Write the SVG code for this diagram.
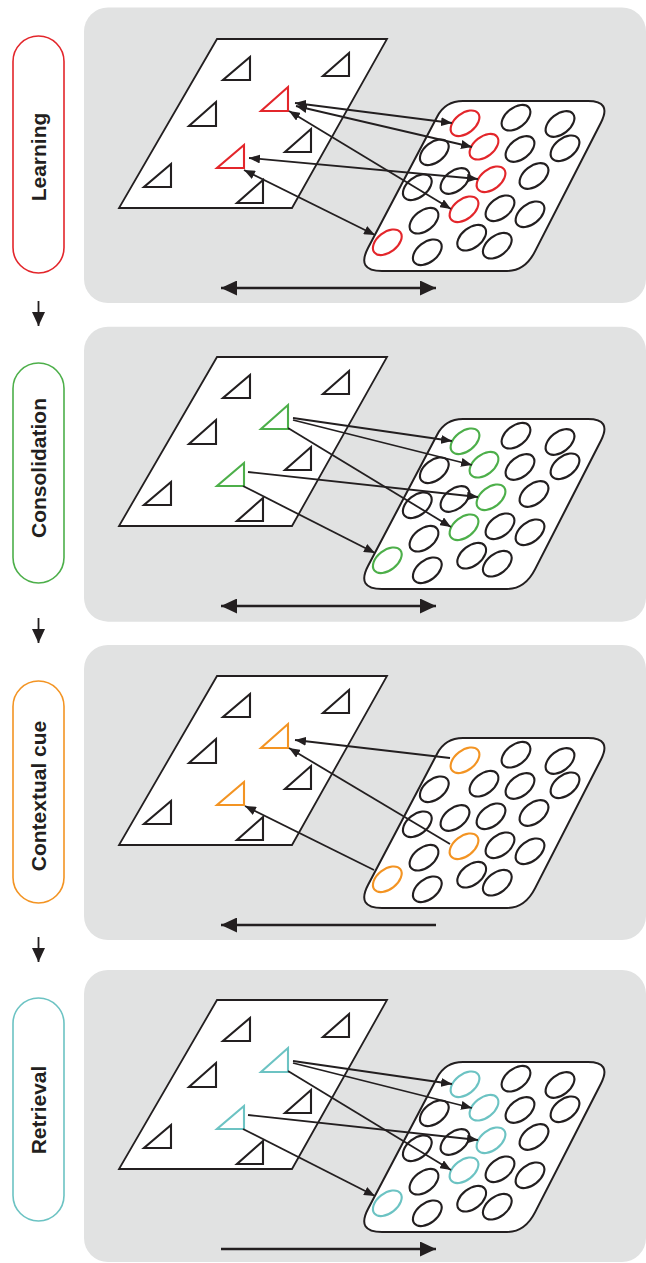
<svg xmlns="http://www.w3.org/2000/svg" xmlns:xlink="http://www.w3.org/1999/xlink" width="646" height="1263" viewBox="0 0 646 1263">
<style>
.panel{fill:#e1e2e2}
.sheet{fill:#fff;stroke:#231f20;stroke-width:1.8}
.tri{fill:none;stroke:#231f20;stroke-width:2.1}
.gridshape{fill:#fff;stroke:#231f20;stroke-width:2}
.ell{fill:none;stroke:#231f20;stroke-width:2.1}
.hi{fill:none;stroke-width:2.1}
.conn{fill:none;stroke:#231f20;stroke-width:1.8}
.big{fill:none;stroke:#231f20;stroke-width:2.6}
.pill{fill:#fff;stroke-width:1.6}
.label{font-family:"Liberation Sans",Arial,sans-serif;font-weight:bold;font-size:21px;fill:#231f20}
.red{stroke:#e3262b}
.green{stroke:#4daf4a}
.orange{stroke:#f39423}
.teal{stroke:#6cc3c3}
</style>
<defs>
<marker id="ah" markerUnits="userSpaceOnUse" markerWidth="11" markerHeight="9" refX="11" refY="4.5" orient="auto-start-reverse"><path d="M0,0 L11,4.5 L0,9 Z" fill="#231f20"/></marker>
<marker id="bh" markerUnits="userSpaceOnUse" markerWidth="16" markerHeight="15" refX="16" refY="7.5" orient="auto-start-reverse"><path d="M0,0 L16,7.5 L0,15 Z" fill="#231f20"/></marker>
<marker id="sh" markerUnits="userSpaceOnUse" markerWidth="14" markerHeight="13" refX="14" refY="6.5" orient="auto"><path d="M0,0 L14,6.5 L0,13 Z" fill="#231f20"/></marker>
<g id="sheet">
<path class="sheet" d="M217,39 L387,39 L292,208 L119,208 Z"/>
<path class="tri" d="M223,80 H250 V57 Z"/>
<path class="tri" d="M323,76 H349 V53 Z"/>
<path class="tri" d="M189,126 H216 V102 Z"/>
<path class="tri" d="M285,152 H311 V129 Z"/>
<path class="tri" d="M144,187 H171 V164 Z"/>
<path class="tri" d="M237,203 H263 V180 Z"/>
</g>
<g id="grid">
<path class="gridshape" d="M463,101 L588,101 Q612,101 601,122.5 L535,251.4 Q525,271 507,271 L382,271 Q356,271 368,248 L437,117 Q445,101 463,101 Z"/>
<ellipse class="ell" cx="516" cy="117.7" rx="16.5" ry="10" transform="rotate(-38 516 117.7)"/>
<ellipse class="ell" cx="560" cy="124" rx="16.5" ry="10" transform="rotate(-38 560 124)"/>
<ellipse class="ell" cx="434.3" cy="152.3" rx="16.5" ry="10" transform="rotate(-38 434.3 152.3)"/>
<ellipse class="ell" cx="520" cy="149" rx="16.5" ry="10" transform="rotate(-38 520 149)"/>
<ellipse class="ell" cx="565" cy="148.3" rx="16.5" ry="10" transform="rotate(-38 565 148.3)"/>
<ellipse class="ell" cx="417.3" cy="187.3" rx="16.5" ry="10" transform="rotate(-38 417.3 187.3)"/>
<ellipse class="ell" cx="455" cy="181" rx="16.5" ry="10" transform="rotate(-38 455 181)"/>
<ellipse class="ell" cx="534" cy="176" rx="16.5" ry="10" transform="rotate(-38 534 176)"/>
<ellipse class="ell" cx="424" cy="220.7" rx="16.5" ry="10" transform="rotate(-38 424 220.7)"/>
<ellipse class="ell" cx="500" cy="208.3" rx="16.5" ry="10" transform="rotate(-38 500 208.3)"/>
<ellipse class="ell" cx="530" cy="214.3" rx="16.5" ry="10" transform="rotate(-38 530 214.3)"/>
<ellipse class="ell" cx="427.3" cy="252.3" rx="16.5" ry="10" transform="rotate(-38 427.3 252.3)"/>
<ellipse class="ell" cx="471.7" cy="237.7" rx="16.5" ry="10" transform="rotate(-38 471.7 237.7)"/>
<ellipse class="ell" cx="497.3" cy="245.7" rx="16.5" ry="10" transform="rotate(-38 497.3 245.7)"/>
</g>
<g id="hiTri">
<path class="hi" d="M261,111 H288 V87 Z"/>
<path class="hi" d="M217,168 H244 V145 Z"/>
</g>
<g id="hiE1"><ellipse class="hi" cx="465" cy="123.3" rx="16.5" ry="10" transform="rotate(-38 465 123.3)"/></g>
<g id="hiE5"><ellipse class="hi" cx="484" cy="146.7" rx="16.5" ry="10" transform="rotate(-38 484 146.7)"/></g>
<g id="hiE10"><ellipse class="hi" cx="491" cy="179.3" rx="16.5" ry="10" transform="rotate(-38 491 179.3)"/></g>
<g id="hiE13"><ellipse class="hi" cx="464" cy="209.3" rx="16.5" ry="10" transform="rotate(-38 464 209.3)"/></g>
<g id="hiE16"><ellipse class="hi" cx="387.3" cy="242.3" rx="16.5" ry="10" transform="rotate(-38 387.3 242.3)"/></g>
</defs>

<g id="panel-learning">
<rect class="panel" x="84" y="7.5" width="562" height="295.5" rx="24"/>
<use xlink:href="#sheet"/>
<use xlink:href="#hiTri" class="red"/>
<use xlink:href="#grid"/>
<use xlink:href="#hiE1" class="red"/><use xlink:href="#hiE5" class="red"/><use xlink:href="#hiE10" class="red"/><use xlink:href="#hiE13" class="red"/><use xlink:href="#hiE16" class="red"/>
</g>

<g id="panel-consolidation">
<rect class="panel" x="84" y="326.7" width="562" height="295" rx="24"/>
<g transform="translate(0,318)">
<use xlink:href="#sheet"/>
<use xlink:href="#hiTri" class="green"/>
<use xlink:href="#grid"/>
<use xlink:href="#hiE1" class="green"/><use xlink:href="#hiE5" class="green"/><use xlink:href="#hiE10" class="green"/><use xlink:href="#hiE13" class="green"/><use xlink:href="#hiE16" class="green"/>
</g>
</g>

<g id="panel-contextual-cue">
<rect class="panel" x="84" y="645" width="562" height="295" rx="24"/>
<g transform="translate(0,637)">
<use xlink:href="#sheet"/>
<use xlink:href="#hiTri" class="orange"/>
<use xlink:href="#grid"/>
<use xlink:href="#hiE5" class="ell"/><use xlink:href="#hiE10" class="ell"/>
<use xlink:href="#hiE1" class="orange"/><use xlink:href="#hiE13" class="orange"/><use xlink:href="#hiE16" class="orange"/>
</g>
</g>

<g id="panel-retrieval">
<rect class="panel" x="84" y="970" width="562" height="292" rx="24"/>
<g transform="translate(0,961)">
<use xlink:href="#sheet"/>
<use xlink:href="#hiTri" class="teal"/>
<use xlink:href="#grid"/>
<use xlink:href="#hiE1" class="teal"/><use xlink:href="#hiE5" class="teal"/><use xlink:href="#hiE10" class="teal"/><use xlink:href="#hiE13" class="teal"/><use xlink:href="#hiE16" class="teal"/>
</g>
</g>

<g id="label-learning">
<rect class="pill red" x="13" y="36" width="51" height="237" rx="25.5"/>
<text class="label" transform="translate(46,157) rotate(-90)" text-anchor="middle">Learning</text>
</g>
<g id="label-consolidation">
<rect class="pill green" x="13" y="363" width="51" height="220" rx="25.5"/>
<text class="label" transform="translate(46,468) rotate(-90)" text-anchor="middle">Consolidation</text>
</g>
<g id="label-contextual-cue">
<rect class="pill orange" x="13" y="681" width="51" height="222" rx="25.5"/>
<text class="label" transform="translate(46,796) rotate(-90)" text-anchor="middle">Contextual cue</text>
</g>
<g id="label-retrieval">
<rect class="pill teal" x="13" y="998" width="51" height="223" rx="25.5"/>
<text class="label" transform="translate(46,1110) rotate(-90)" text-anchor="middle">Retrieval</text>
</g>

<g id="connectors">
<g id="flow">
<line class="conn" x1="38.5" y1="301" x2="38.5" y2="326" marker-end="url(#sh)"/>
<line class="conn" x1="38.5" y1="618" x2="38.5" y2="643" marker-end="url(#sh)"/>
<line class="conn" x1="38.5" y1="937" x2="38.5" y2="962" marker-end="url(#sh)"/>
</g>
<g id="conn-learning">
<line class="conn" x1="295" y1="103" x2="452" y2="123" marker-start="url(#ah)" marker-end="url(#ah)"/>
<line class="conn" x1="296" y1="106" x2="472" y2="147" marker-start="url(#ah)" marker-end="url(#ah)"/>
<line class="conn" x1="289" y1="111" x2="451" y2="209" marker-start="url(#ah)" marker-end="url(#ah)"/>
<line class="conn" x1="249" y1="158" x2="478" y2="179" marker-start="url(#ah)" marker-end="url(#ah)"/>
<line class="conn" x1="244" y1="170" x2="375" y2="235" marker-start="url(#ah)" marker-end="url(#ah)"/>
<line class="big" x1="221" y1="288" x2="436" y2="288" marker-start="url(#bh)" marker-end="url(#bh)"/>
</g>
<g id="conn-consolidation" transform="translate(0,318)">
<line class="conn" x1="293" y1="100" x2="452" y2="123" marker-end="url(#ah)"/>
<line class="conn" x1="293" y1="102" x2="472" y2="147" marker-end="url(#ah)"/>
<line class="conn" x1="288" y1="110" x2="451" y2="209" marker-end="url(#ah)"/>
<line class="conn" x1="248" y1="154" x2="478" y2="179" marker-end="url(#ah)"/>
<line class="conn" x1="243" y1="168" x2="375" y2="235" marker-end="url(#ah)"/>
<line class="big" x1="221" y1="288" x2="436" y2="288" marker-start="url(#bh)" marker-end="url(#bh)"/>
</g>
<g id="conn-contextual-cue" transform="translate(0,637)">
<line class="conn" x1="450" y1="121" x2="295" y2="103" marker-end="url(#ah)"/>
<line class="conn" x1="450" y1="207" x2="289" y2="111" marker-end="url(#ah)"/>
<line class="conn" x1="374" y1="233" x2="245" y2="169" marker-end="url(#ah)"/>
<line class="big" x1="436" y1="288" x2="221" y2="288" marker-end="url(#bh)"/>
</g>
<g id="conn-retrieval" transform="translate(0,961)">
<line class="conn" x1="293" y1="100" x2="452" y2="123" marker-end="url(#ah)"/>
<line class="conn" x1="293" y1="102" x2="472" y2="147" marker-end="url(#ah)"/>
<line class="conn" x1="288" y1="110" x2="451" y2="209" marker-end="url(#ah)"/>
<line class="conn" x1="248" y1="154" x2="478" y2="179" marker-end="url(#ah)"/>
<line class="conn" x1="243" y1="168" x2="375" y2="235" marker-end="url(#ah)"/>
<line class="big" x1="221" y1="288" x2="436" y2="288" marker-end="url(#bh)"/>
</g>
</g>
</svg>
